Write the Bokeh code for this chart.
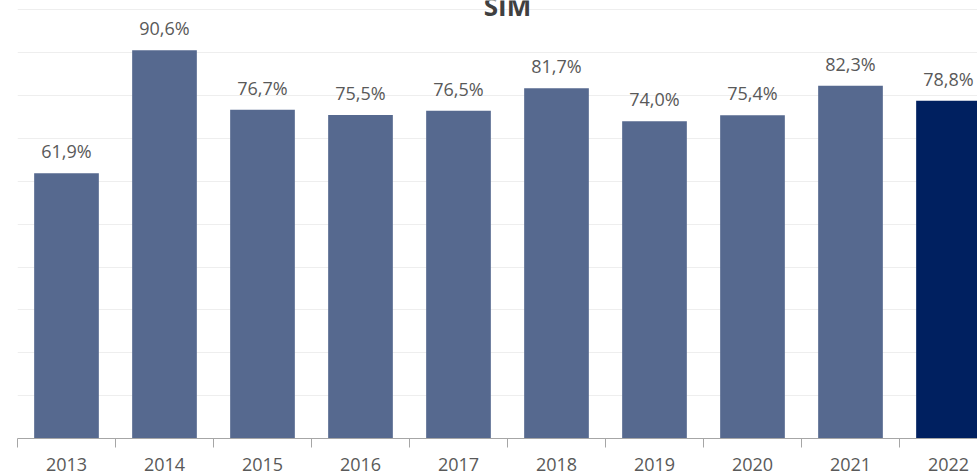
from bokeh.plotting import figure
from bokeh.models import ColumnDataSource, FixedTicker, LabelSet, Range1d
from bokeh.core.properties import value
from bokeh.embed import file_html
from bokeh.resources import INLINE

# ---- data ----
years = ["2013", "2014", "2015", "2016", "2017", "2018", "2019", "2020", "2021", "2022"]
rates = [61.9, 90.6, 76.7, 75.5, 76.5, 81.7, 74.0, 75.4, 82.3, 78.8]
title_text = "SIM"

# ---- styles ----
BASE = "#56698f"
HIGHLIGHT = "#002060"
FONT = "Open Sans"

n = len(years)
centers = [i + 0.5 for i in range(n)]
labels = [f"{v:.1f}%".replace(".", ",") for v in rates]
colors = [HIGHLIGHT if i == n - 1 else BASE for i in range(n)]

src = ColumnDataSource(dict(x=centers, top=rates, label=labels, color=colors))

p = figure(width=977, height=475, output_backend="svg", toolbar_location=None,
           x_range=Range1d(0, 960 / 98), y_range=Range1d(0, 102.2),
           min_border_left=17, min_border_right=0, min_border_top=0, min_border_bottom=37)
p.outline_line_color = None
p.background_fill_color = "white"
p.border_fill_color = "white"

p.vbar(x="x", top="top", width=0.66, bottom=0, color="color", line_color=None, source=src)

p.add_layout(LabelSet(x="x", y="top", text="label", source=src, y_offset=15,
                      text_align="center", text_baseline="alphabetic",
                      text_font=value(FONT), text_font_size=value("18px"),
                      text_color="#595959"))

# title (partly cut off at the top, as in the reference)
tsrc = ColumnDataSource(dict(x=[n / 2], y=[p.y_range.end], t=[title_text]))
p.add_layout(LabelSet(x="x", y="y", text="t", source=tsrc, y_offset=-15,
                      text_align="center", text_baseline="alphabetic",
                      text_font=value(FONT), text_font_size=value("26px"),
                      text_font_style="bold", text_color="#404040"))

# axes
p.yaxis.visible = False
p.ygrid.ticker = FixedTicker(ticks=list(range(0, 101, 10)))
p.ygrid.grid_line_color = "#eeeeee"
p.xgrid.grid_line_color = None

xa = p.xaxis[0]
xa.ticker = FixedTicker(ticks=centers, minor_ticks=list(range(0, n + 1)))
xa.major_label_overrides = {c: y for c, y in zip(centers, years)}
xa.major_tick_out = 0
xa.major_tick_in = 0
xa.minor_tick_out = 9
xa.minor_tick_in = 0
xa.minor_tick_line_color = "#a6a6a6"
xa.axis_line_color = "#a6a6a6"
xa.major_label_standoff = 10
xa.major_label_text_font = FONT
xa.major_label_text_font_size = "18px"
xa.major_label_text_color = "#595959"

open("out.html", "w").write(file_html(p, INLINE))
